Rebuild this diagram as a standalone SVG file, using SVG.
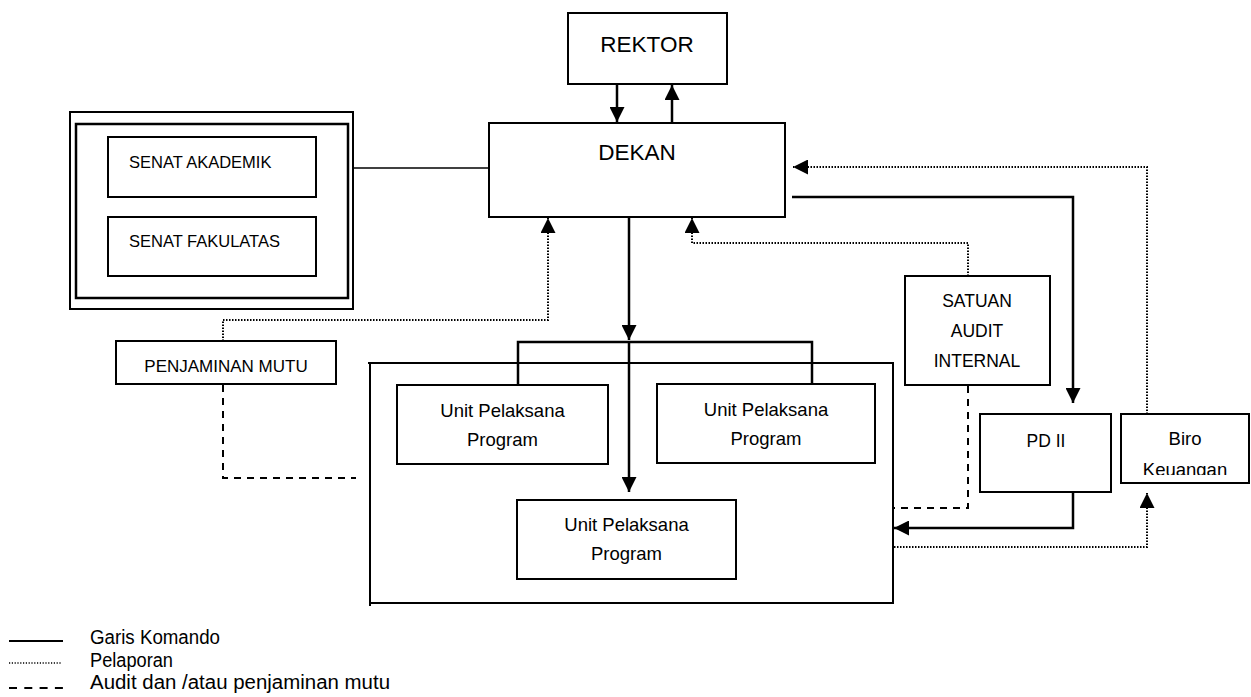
<svg xmlns="http://www.w3.org/2000/svg" width="1251" height="697" viewBox="0 0 1251 697">
<style>
.box{fill:#fff;stroke:#000;stroke-width:2}
.t{font-family:"Liberation Sans",Arial,sans-serif;fill:#000}
.c{font-size:17px}
.m{font-size:18.5px}
.big{font-size:22.5px}
.cmd{fill:none;stroke:#000;stroke-width:2.5}
.thin{fill:none;stroke:#000;stroke-width:1.5}
.rep{fill:none;stroke:#000;stroke-width:2;stroke-dasharray:1.5 1.5}
.aud{fill:none;stroke:#000;stroke-width:2;stroke-dasharray:7 6}
.lg{font-size:19.5px}
</style>
<defs>
<marker id="ah" markerUnits="userSpaceOnUse" markerWidth="15" markerHeight="15" viewBox="0 0 15 15" refX="15" refY="7.5" orient="auto">
<path d="M0,0 L15,7.5 L0,15 z" fill="#000"/>
</marker>
<clipPath id="biroclip"><rect x="1122" y="415" width="126" height="60"/></clipPath>
</defs>
<rect width="1251" height="697" fill="#fff"/>

<g id="connectors">
<path class="cmd" d="M617,84 V122" marker-end="url(#ah)"/>
<path class="cmd" d="M672,123 V85" marker-end="url(#ah)"/>
<path class="thin" d="M353,168 H489"/>
<path class="cmd" d="M629,217 V340" marker-end="url(#ah)"/>
<path class="cmd" d="M629,342 V492" marker-end="url(#ah)"/>
<path class="cmd" d="M518,384 V342 H812 V383"/>
<path class="rep" d="M223,341 V320 H548 V218" marker-end="url(#ah)"/>
<path class="aud" d="M223,385 V478 H356"/>
<path class="rep" d="M968,276 V243 H692 V218" marker-end="url(#ah)"/>
<path class="rep" d="M1147,414 V167 H793" marker-end="url(#ah)"/>
<path class="cmd" d="M792,197 H1073 V403" marker-end="url(#ah)"/>
<path class="cmd" d="M1073,492 V528 H894" marker-end="url(#ah)"/>
<path class="aud" d="M968,386 V508 H894"/>
<path class="rep" d="M894,547 H1147 V493" marker-end="url(#ah)"/>
</g>

<g id="rektor">
<rect class="box" x="568" y="13" width="159" height="71"/>
<text class="t big" x="647" y="52" text-anchor="middle">REKTOR</text>
</g>

<g id="dekan">
<rect class="box" x="489" y="123" width="296" height="94"/>
<text class="t big" x="637" y="160" text-anchor="middle">DEKAN</text>
</g>

<g id="senat">
<rect class="box" x="70" y="112" width="283" height="197"/>
<rect class="box" x="76" y="124" width="272" height="174" style="stroke-width:2.5"/>
<g id="senat-akademik">
<rect class="box" x="108" y="137" width="208" height="60"/>
<text class="t c" x="129" y="168" style="font-size:16.5px">SENAT AKADEMIK</text>
</g>
<g id="senat-fakultas">
<rect class="box" x="108" y="217" width="208" height="59"/>
<text class="t c" x="129" y="247" style="font-size:16.5px">SENAT FAKULATAS</text>
</g>
</g>

<g id="penjaminan-mutu">
<rect class="box" x="116" y="341" width="220" height="43"/>
<text class="t c" x="226" y="372" text-anchor="middle">PENJAMINAN MUTU</text>
</g>

<g id="container">
<path class="box" style="fill:none" d="M368,363 H893 V603 H370 M370,363 V606"/>
</g>

<g id="upp1">
<rect class="box" x="397" y="385" width="211" height="79"/>
<text class="t m" x="502.5" y="417" text-anchor="middle">Unit Pelaksana</text>
<text class="t m" x="502.5" y="446" text-anchor="middle">Program</text>
</g>
<g id="upp2">
<rect class="box" x="657" y="384" width="218" height="79"/>
<text class="t m" x="766" y="416" text-anchor="middle">Unit Pelaksana</text>
<text class="t m" x="766" y="445" text-anchor="middle">Program</text>
</g>
<g id="upp3">
<rect class="box" x="517" y="500" width="219" height="79"/>
<text class="t m" x="626.5" y="531" text-anchor="middle">Unit Pelaksana</text>
<text class="t m" x="626.5" y="560" text-anchor="middle">Program</text>
</g>

<g id="satuan-audit">
<rect class="box" x="905" y="276" width="145" height="109"/>
<text class="t" x="977" y="307" text-anchor="middle" style="font-size:17.5px">SATUAN</text>
<text class="t" x="977" y="337" text-anchor="middle" style="font-size:17.5px">AUDIT</text>
<text class="t" x="977" y="367" text-anchor="middle" style="font-size:17.5px">INTERNAL</text>
</g>

<g id="pd2">
<rect class="box" x="980" y="414" width="131" height="78"/>
<text class="t" x="1046" y="447" text-anchor="middle" style="font-size:17.5px">PD II</text>
</g>

<g id="biro">
<rect class="box" x="1121" y="414" width="128" height="69"/>
<g clip-path="url(#biroclip)">
<text class="t m" x="1185" y="445" text-anchor="middle">Biro</text>
<text class="t m" x="1185" y="476" text-anchor="middle">Keuangan</text>
</g>
</g>

<g id="legend">
<path d="M9,641 H63" fill="none" stroke="#000" stroke-width="2"/>
<path d="M9,663 H61" fill="none" stroke="#000" stroke-width="1.5" stroke-dasharray="1.2 1.6"/>
<path d="M9,688 H63" fill="none" stroke="#000" stroke-width="2" stroke-dasharray="8 7.3"/>
<text class="t lg" x="90" y="644" textLength="130" lengthAdjust="spacingAndGlyphs">Garis Komando</text>
<text class="t lg" x="90" y="666.5" textLength="83" lengthAdjust="spacingAndGlyphs">Pelaporan</text>
<text class="t lg" x="90" y="689" textLength="300" lengthAdjust="spacingAndGlyphs">Audit dan /atau penjaminan mutu</text>
</g>
</svg>
